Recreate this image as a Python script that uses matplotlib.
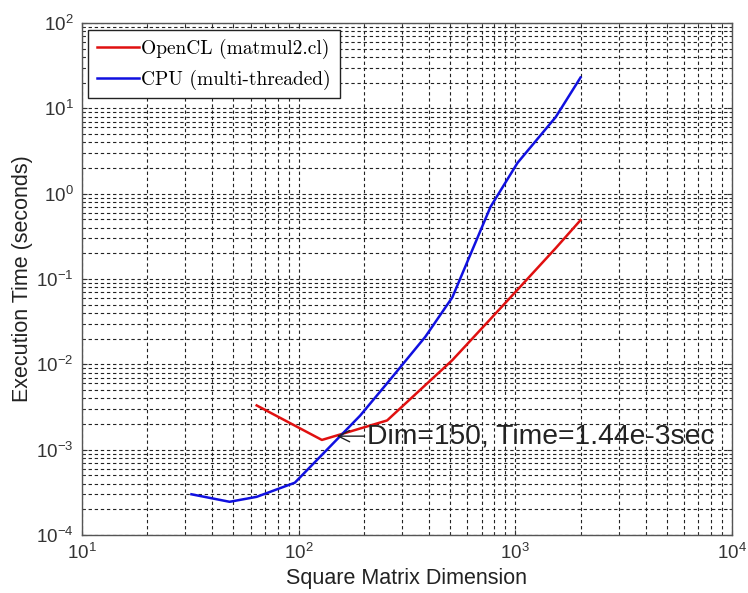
import numpy as np
import matplotlib.pyplot as plt
from matplotlib.ticker import NullFormatter

# matrix sizes and timings
opencl_dim = [64, 128, 256, 384, 512, 768, 1024, 1536, 2000]
opencl_time = [3.3e-3, 1.3e-3, 2.2e-3, 5.7e-3, 1.12e-2, 3.4e-2, 7.5e-2, 2.3e-1, 4.9e-1]

cpu_dim = [32, 48, 64, 96, 192, 256, 384, 512, 768, 1024, 1536, 2000]
cpu_time = [3.0e-4, 2.45e-4, 2.8e-4, 4.1e-4, 2.5e-3, 6.0e-3, 2.1e-2, 6.1e-2, 0.70, 2.3, 7.9, 23.0]

note_dim, note_time = 150, 1.44e-3
note_text = 'Dim=150, Time=1.44e-3sec'

plt.rcParams['font.family'] = ['Liberation Sans', 'DejaVu Sans']
plt.rcParams['mathtext.fontset'] = 'custom'
plt.rcParams['mathtext.rm'] = 'Liberation Sans'

fig = plt.figure(figsize=(7.48, 5.93), dpi=100)
ax = fig.add_axes([82 / 748, 1 - 535 / 593, 650 / 748, 512 / 593])

ax.plot(opencl_dim, opencl_time, color='#e01010', lw=1.8, label='OpenCL (matmul2.cl)')
ax.plot(cpu_dim, cpu_time, color='#1010e0', lw=1.8, label='CPU (multi-threaded)')

ax.set_xscale('log')
ax.set_yscale('log')
ax.set_xlim(10, 1e4)
ax.set_ylim(1e-4, 1e2)
ax.xaxis.set_minor_formatter(NullFormatter())
ax.yaxis.set_minor_formatter(NullFormatter())

ax.grid(True, which='both', color='#222222', linestyle=(0, (3, 2.5)), linewidth=0.8)
ax.tick_params(which='both', direction='in', top=True, right=True, labelsize=13.5, colors='#333333')
ax.tick_params(axis='x', pad=6)
ax.tick_params(axis='y', pad=6)
for s in ax.spines.values():
    s.set_color('#555555')
    s.set_linewidth(1.0)

ax.set_xlabel('Square Matrix Dimension', fontsize=15.5, color='#222222', labelpad=3)
ax.set_ylabel('Execution Time (seconds)', fontsize=15.5, color='#222222', labelpad=2)

ax.annotate(note_text, xy=(note_dim, note_time), xytext=(21.5, 0), textcoords='offset points',
            ha='left', va='center', fontsize=20.3, color='#222222',
            arrowprops=dict(arrowstyle='->', color='#222222', lw=1.0, shrinkA=0, shrinkB=0))

leg = ax.legend(loc='upper left', bbox_to_anchor=(6 / 650, 1 - 7 / 512), borderaxespad=0,
                fancybox=False, framealpha=1, edgecolor='#222222',
                prop={'family': 'cmr10', 'size': 14}, handlelength=2.15, handletextpad=0.15,
                labelspacing=0.55, borderpad=0.45)
leg.get_frame().set_linewidth(1.0)

fig.savefig('out.png', dpi=100)
